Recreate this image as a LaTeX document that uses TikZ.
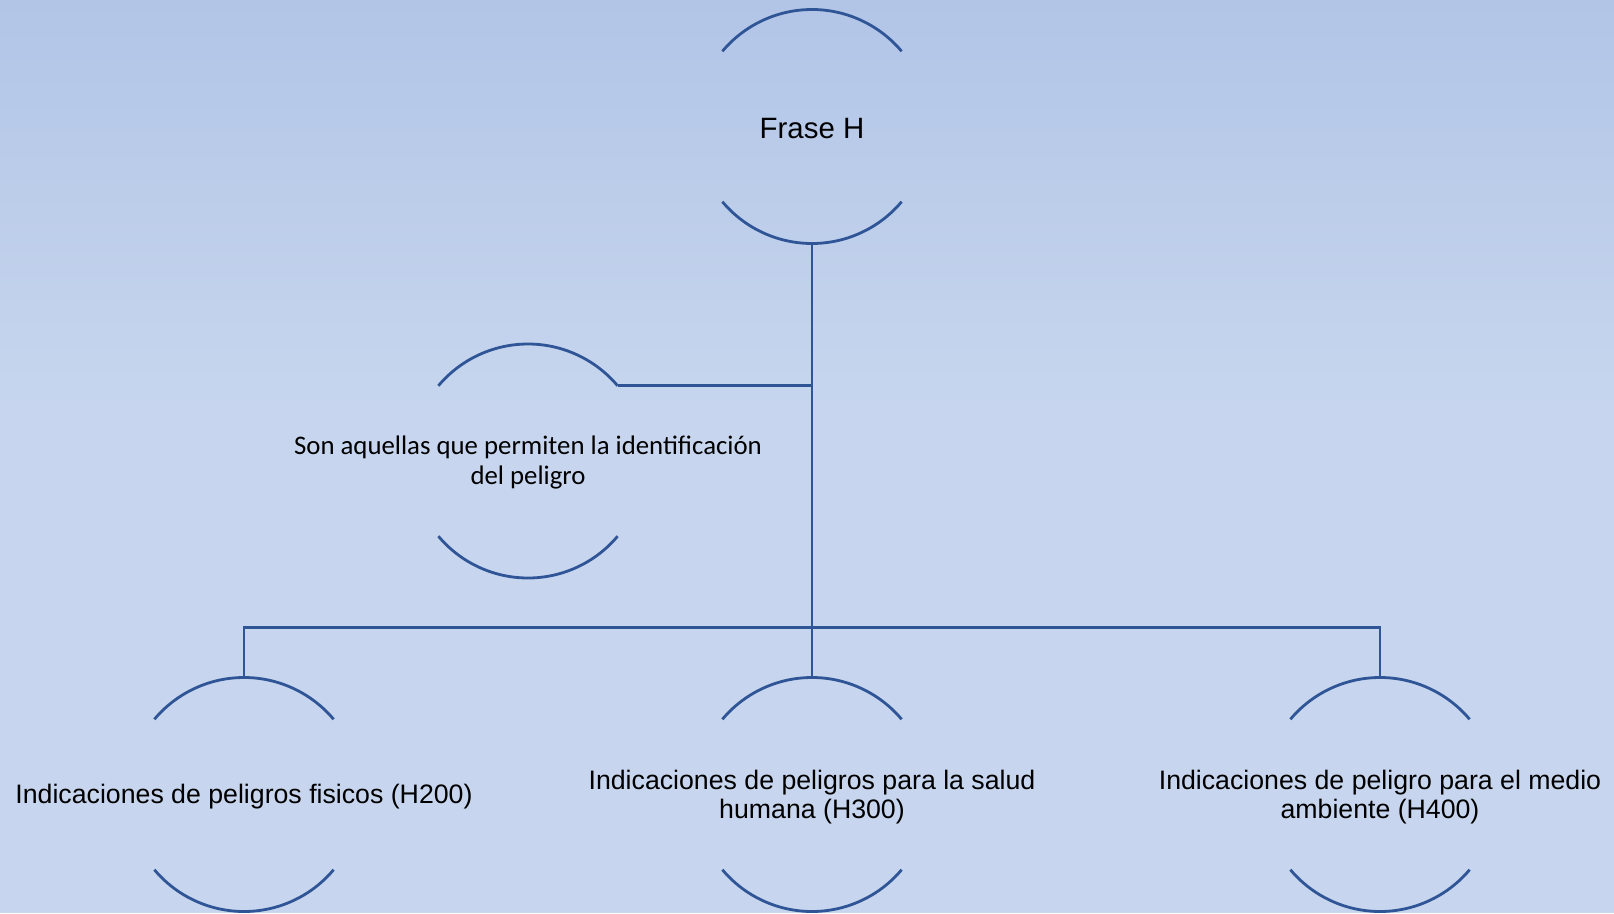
\documentclass[tikz,border=0pt]{standalone}
\usepackage{fontspec}
\setmainfont{Liberation Sans}
\newfontfamily\calibri{Carlito}
\definecolor{arcblue}{HTML}{2F5597}
\definecolor{bgtop}{HTML}{B2C5E7}
\definecolor{bgmid}{HTML}{C7D6EE}
\tikzset{
  hnode/.style={circle,minimum size=234pt,inner sep=0pt,outer sep=0pt},
  caps/.style={draw=arcblue,line width=2.8pt},
  link/.style={draw=arcblue,line width=2.8pt},
  bigtext/.style={font=\fontsize{29.4}{35}\selectfont,yshift=-2.5pt},
  leaftext/.style={font=\fontsize{26.7}{29}\selectfont,align=center,yshift=-2.5pt},
  notetext/.style={font=\calibri\fontsize{26.8}{30}\selectfont,align=center,yshift=-1.5pt}
}
\begin{document}
\begin{tikzpicture}[x=1pt,y=-1pt]
  \useasboundingbox (0,0) rectangle (1614,913);
  % background
  \shade[top color=bgtop,bottom color=bgmid] (0,0) rectangle (1614,410);
  \fill[bgmid] (0,410) rectangle (1614,913);

  \node[hnode,label={[bigtext]center:Frase H}] (frase) at (812,126.5) {};
  \node[hnode,label={[notetext]center:Son aquellas que permiten la identificación\\del peligro}] (son) at (528,461) {};
  \node[hnode,label={[leaftext]center:Indicaciones de peligros fisicos (H200)}] (fisicos) at (244,794.5) {};
  \node[hnode,label={[leaftext]center:Indicaciones de peligros para la salud\\humana (H300)}] (salud) at (812,794.5) {};
  \node[hnode,label={[leaftext]center:Indicaciones de peligro para el medio\\ambiente (H400)}] (ambiente) at (1380,794.5) {};
  \coordinate (bus) at (812,627.5);

  % open circles
  \foreach \n in {frase,son,fisicos,salud,ambiente} {
    \draw[caps] (\n.140) arc[start angle=140,end angle=40,radius=117pt];
    \draw[caps] (\n.220) arc[start angle=220,end angle=320,radius=117pt];
  }

  \draw[link] (frase.south) -- (salud.north);
  \draw[link] (son.40) -- (son.40 -| frase.south);
  \draw[link] (fisicos.north) |- (bus) -| (ambiente.north);
\end{tikzpicture}
\end{document}
